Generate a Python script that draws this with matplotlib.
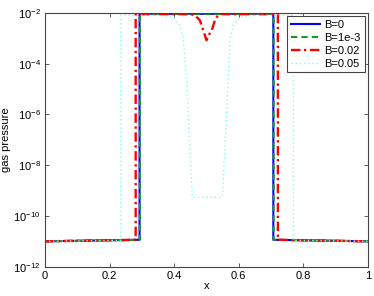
import matplotlib
matplotlib.use("Agg")
import matplotlib.pyplot as plt
import numpy as np

plt.rcParams["font.family"] = ["Liberation Sans", "DejaVu Sans"]
plt.rcParams["mathtext.fontset"] = "custom"
plt.rcParams["mathtext.rm"] = "Liberation Sans"
plt.rcParams["mathtext.it"] = "Liberation Sans"

# B = 0
x_b0 = [0, 0.293, 0.293, 0.707, 0.707, 1]
p_b0 = [1.0e-11, 1.15e-11, 9.3e-3, 9.3e-3, 1.15e-11, 1.0e-11]

# B = 1e-3
x_b1 = [0, 0.294, 0.294, 0.708, 0.708, 1]
p_b1 = [1.0e-11, 1.15e-11, 9.3e-3, 9.3e-3, 1.15e-11, 1.0e-11]

# B = 0.02
x_b2 = [0, 0.281, 0.281, 0.452, 0.465, 0.48, 0.49, 0.50, 0.508, 0.516, 0.526, 0.535, 0.545, 0.721, 0.721, 1]
p_b2 = [1.0e-11, 1.15e-11, 9.0e-3, 9.0e-3, 8.0e-3, 5.1e-3, 2.1e-3, 8.5e-4, 1.4e-3, 2.0e-3, 5.1e-3, 8.0e-3, 9.0e-3, 9.0e-3, 1.15e-11, 1.0e-11]

# B = 0.05
x_b5 = [0, 0.235, 0.235, 0.356, 0.396, 0.418, 0.428, 0.433, 0.439, 0.456, 0.459,
        0.547, 0.550, 0.567, 0.573, 0.583, 0.604, 0.644, 0.769, 0.769, 1]
p_b5 = [1.0e-11, 1.1e-11, 8.1e-3, 8.1e-3, 6.9e-3, 3.3e-3, 1.0e-3, 2.1e-4, 1.9e-5, 6.6e-10, 5.4e-10,
        5.4e-10, 6.6e-10, 2.2e-5, 1.0e-3, 3.3e-3, 6.9e-3, 8.1e-3, 8.1e-3, 1.1e-11, 1.0e-11]

labels = ["B=0", "B=1e-3", "B=0.02", "B=0.05"]
x_ticks = [0, 0.2, 0.4, 0.6, 0.8, 1]
x_tick_labels = ["0", "0.2", "0.4", "0.6", "0.8", "1"]
y_ticks = [1e-12, 1e-10, 1e-8, 1e-6, 1e-4, 1e-2]

fig = plt.figure(figsize=(3.74, 2.96), dpi=100)
ax = fig.add_axes([0.120, 0.099, 0.864, 0.857])

ax.plot(x_b0, p_b0, color="#0000ff", lw=1.5, ls="-", label=labels[0])
ax.plot(x_b1, p_b1, color="#1a9a1a", lw=1.5, ls=(0, (3, 2)), label=labels[1])
ax.plot(x_b2, p_b2, color="#ff0000", lw=1.7, ls=(0, (4, 1.5, 1, 1.5)), label=labels[2])
ax.plot(x_b5, p_b5, color="#80ffdd", lw=1.0, ls=(0, (1, 2)), label=labels[3])

ax.set_yscale("log")
ax.set_xlim(0, 1)
ax.set_ylim(1e-12, 1e-2)
ax.set_xticks(x_ticks)
ax.set_xticklabels(x_tick_labels)
ax.set_yticks(y_ticks)
ax.yaxis.set_minor_locator(matplotlib.ticker.NullLocator())
ax.tick_params(direction="in", top=True, right=True, labelsize=8, length=3,
               width=0.6, color="#444444", pad=3)
for s in ax.spines.values():
    s.set_linewidth(0.8)
    s.set_color("#444444")

ax.set_xlabel("x", fontsize=8, labelpad=0)
ax.set_ylabel("gas pressure", fontsize=8, labelpad=2)

leg = ax.legend(loc="upper right", fontsize=8, frameon=True, fancybox=False,
                edgecolor="#444444", framealpha=1, handlelength=2.6,
                handletextpad=0.4, borderpad=0.35, labelspacing=0.25,
                borderaxespad=0.3)
leg.get_frame().set_linewidth(0.8)

fig.savefig("out.png", dpi=100)
